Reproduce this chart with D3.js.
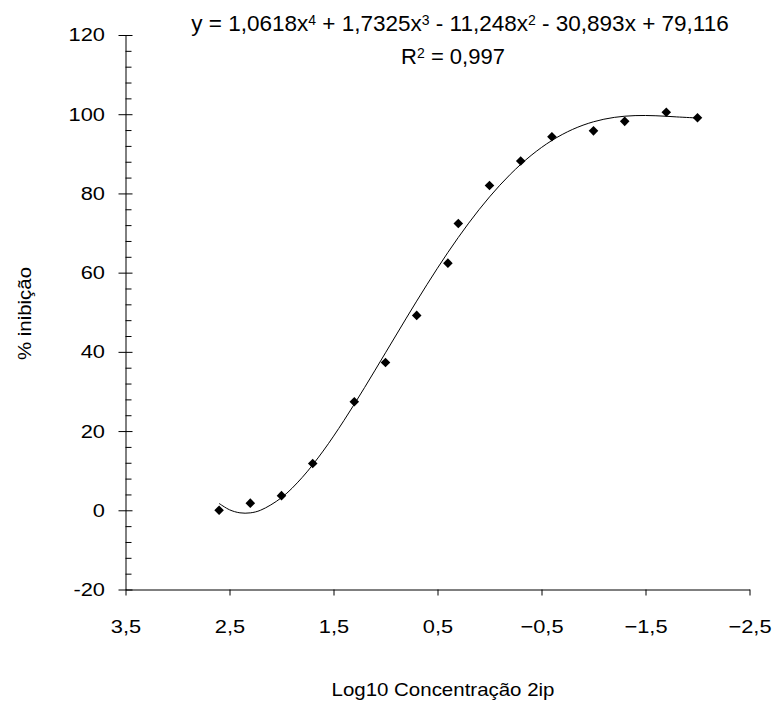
<!DOCTYPE html>
<html>
<head>
<meta charset="utf-8">
<script src="https://cdn.jsdelivr.net/npm/d3@7"></script>
<style>
  body { margin: 0; background: #fff; }
  svg { font-family: "Liberation Sans", Arial, sans-serif; }
</style>
</head>
<body>
<svg width="774" height="711"></svg>
<script>
// measured points (log10 concentration, % inhibition)
const logConc = [2.6, 2.3, 2.0, 1.7, 1.3, 1.0, 0.7, 0.4, 0.3, 0.0, -0.3, -0.6, -1.0, -1.3, -1.7, -2.0];
const inhibition = [0.0, 1.8, 3.7, 11.8, 27.4, 37.3, 49.2, 62.4, 72.4, 82.0, 88.2, 94.3, 95.8, 98.2, 100.5, 99.1];

// trendline
const trendX = [2.6, 2.5, 2.4, 2.3, 2.2, 2.0, 1.8, 1.6, 1.4, 1.2, 1.0, 0.8, 0.6, 0.4, 0.2, 0.0,
                -0.2, -0.4, -0.6, -0.8, -1.0, -1.2, -1.4, -1.6, -1.8, -2.0];
const trendY = [1.73, 0.13, -0.64, -0.65, 0.03, 3.19, 8.32, 14.95, 22.65, 31.04, 39.77, 48.52, 57.04, 65.10, 72.50, 79.12,
                84.83, 89.59, 93.37, 96.18, 98.09, 99.20, 99.65, 99.61, 99.32, 99.04];

const xTicks = [3.5, 2.5, 1.5, 0.5, -0.5, -1.5, -2.5];
const yTicks = [-20, 0, 20, 40, 60, 80, 100, 120];

const svg = d3.select("svg");
const fmt = d => d3.format(".1f")(d).replace(".", ",");

const x = d3.scaleLinear().domain([3.5, -2.5]).range([125.5, 749.5]);
const y = d3.scaleLinear().domain([-20, 120]).range([589.5, 35]);

// the labels in the original are set wider than Arial
function widen(g) {
  g.selectAll(".tick text").each(function () {
    const t = d3.select(this);
    const tx = +t.attr("x") || 0, ty = +t.attr("y") || 0;
    t.attr("x", 0).attr("y", 0)
     .attr("transform", `translate(${tx},${ty}) scale(1.18,1)`)
     .style("font-size", "18.5px")
     .attr("fill", "#000");
  });
}

// minor ticks on the y axis (every 4 units, inside)
const yMinor = d3.range(-20, 121, 4).filter(v => v % 20 !== 0);
svg.append("g")
    .attr("transform", `translate(${x(3.5)},0)`)
    .call(d3.axisRight(y).tickValues(yMinor).tickSize(6).tickFormat(""))
    .call(g => g.select(".domain").remove());

// y axis
svg.append("g")
    .attr("transform", `translate(${x(3.5)},0)`)
    .call(d3.axisLeft(y).tickValues(yTicks).tickSize(7).tickSizeOuter(0).tickPadding(13.5).tickFormat(d => d))
    .call(g => g.selectAll(".tick line").attr("x1", 7))
    .call(widen);

// x axis
svg.append("g")
    .attr("transform", `translate(0,${y(-20)})`)
    .call(d3.axisBottom(x).tickValues(xTicks).tickSize(6).tickSizeOuter(0).tickPadding(24).tickFormat(fmt))
    .call(widen);

svg.selectAll(".domain, .tick line").attr("stroke", "#000");

// trendline
const line = d3.line()
    .x((d, i) => x(trendX[i]))
    .y(d => y(d))
    .curve(d3.curveCatmullRom);
svg.append("path")
    .datum(trendY)
    .attr("d", line)
    .attr("fill", "none")
    .attr("stroke", "#000")
    .attr("stroke-width", 1);

// markers
svg.append("g").selectAll("path")
    .data(inhibition)
    .join("path")
    .attr("d", d3.symbol(d3.symbolSquare, 46))
    .attr("transform", (d, i) => `translate(${x(logConc[i])},${y(d)}) rotate(45)`)
    .attr("fill", "#000");

// equation and R²
const eq = svg.append("text")
    .attr("x", 460).attr("y", 31)
    .attr("text-anchor", "middle")
    .style("font-size", "22.5px");
const parts = ["y = 1,0618x", "4", " + 1,7325x", "3", " - 11,248x", "2", " - 30,893x + 79,116"];
parts.forEach((t, i) => {
  const s = eq.append("tspan").text(t);
  if (i % 2 === 1) s.attr("dy", -6).style("font-size", "14px");
  else if (i > 0) s.attr("dy", 6);
});
const r2 = svg.append("text")
    .attr("x", 453).attr("y", 63.5)
    .attr("text-anchor", "middle")
    .style("font-size", "22px");
r2.append("tspan").text("R");
r2.append("tspan").text("2").attr("dy", -6).style("font-size", "14px");
r2.append("tspan").text(" = 0,997").attr("dy", 6);

// axis titles
svg.append("text")
    .attr("x", 443).attr("y", 696)
    .attr("text-anchor", "middle")
    .attr("textLength", 223)
    .attr("lengthAdjust", "spacingAndGlyphs")
    .style("font-size", "19px")
    .text("Log10 Concentração 2ip");
svg.append("text")
    .attr("transform", "translate(31,313.5) rotate(-90)")
    .attr("text-anchor", "middle")
    .attr("textLength", 93)
    .attr("lengthAdjust", "spacingAndGlyphs")
    .style("font-size", "19px")
    .text("% inibição");
</script>
</body>
</html>
